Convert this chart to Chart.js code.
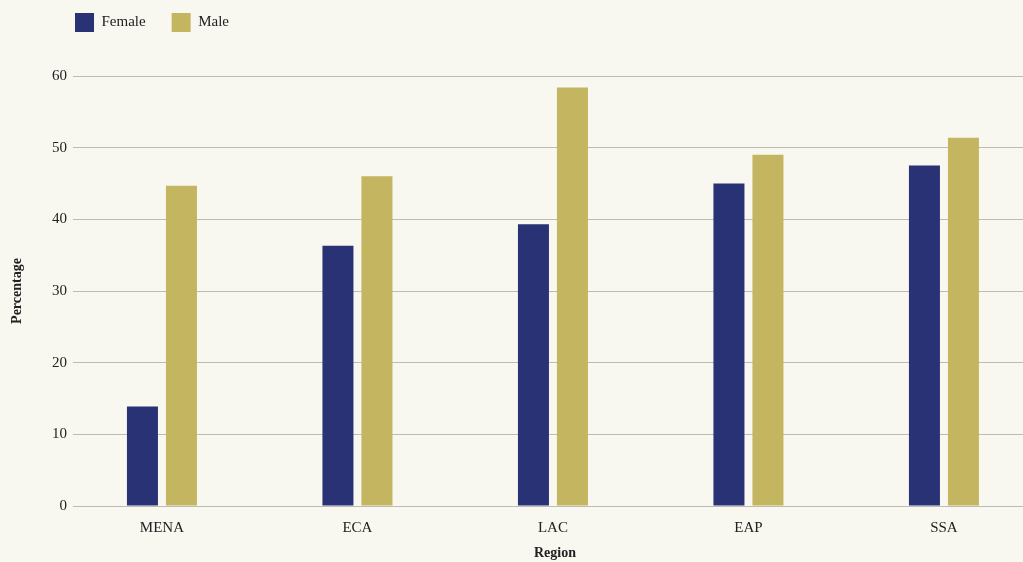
<!DOCTYPE html>
<html>
<head>
<meta charset="utf-8">
<script src="https://cdn.jsdelivr.net/npm/chart.js@4/dist/chart.umd.min.js"></script>
<style>
  html, body { margin: 0; padding: 0; background: #f8f7f0; overflow: hidden; }
  #wrap { width: 1037px; height: 562px; }
</style>
</head>
<body>
<div id="wrap"><canvas id="regionChart" width="1037" height="562"></canvas></div>
<script>
/* Setup data */
var regions = ['MENA', 'ECA', 'LAC', 'EAP', 'SSA'];
var female = [13.9, 36.3, 39.3, 45.0, 47.5];
var male = [44.7, 46.0, 58.4, 49.0, 51.4];
var yTicks = [0, 10, 20, 30, 40, 50, 60];

var serif = "'Liberation Serif', 'DejaVu Serif', serif";
var textColour = '#222222';

function toPoints(values) {
	return values.map(function(v, i) { return { x: i, y: v }; });
}

// shift the legend to sit above the plot like the original
var legendShift = {
	id: 'legendShift',
	afterLayout: function(chart) {
		var lg = chart.legend;
		if (!lg) return;
		lg.left += 49;
		lg.right += 49;
		lg.top -= 34;
		lg.bottom -= 34;
	}
};

var ctx = document.getElementById('regionChart');

var regionChart = new Chart(ctx, {
	type: 'bar',
	data: {
		datasets: [{
			label: 'Female',
			data: toPoints(female),
			backgroundColor: '#283275'
		}, {
			label: 'Male',
			data: toPoints(male),
			backgroundColor: '#c4b560'
		}]
	},
	options: {
		responsive: false,
		animation: false,
		categoryPercentage: 0.399,
		barPercentage: 0.795,
		layout: { padding: { top: 21, right: 0, bottom: 0, left: 0 } },
		plugins: {
			legend: {
				position: 'top',
				align: 'start',
				labels: {
					boxWidth: 19,
					boxHeight: 19,
					padding: 26,
					color: textColour,
					font: { family: serif, size: 15 }
				}
			},
			tooltip: { enabled: false }
		},
		scales: {
			x: {
				type: 'linear',
				offset: false,
				min: -0.455,
				max: 4.476,
				grid: { display: false, drawTicks: false, offset: false },
				border: { display: false },
				ticks: {
					stepSize: 1,
					includeBounds: false,
					autoSkip: false,
					maxRotation: 0,
					padding: 13,
					color: textColour,
					font: { family: serif, size: 15 },
					callback: function(value) {
						return Number.isInteger(value) ? regions[value] : '';
					}
				},
				title: {
					display: true,
					text: 'Region',
					color: textColour,
					padding: { top: 0, bottom: 0 },
					font: { family: serif, size: 14, weight: 'bold' }
				},
				afterFit: function(scale) { scale.height = 56; }
			},
			y: {
				min: 0,
				max: 60,
				afterBuildTicks: function(scale) {
					scale.ticks = yTicks.map(function(v) { return { value: v }; });
				},
				grid: { color: '#bdbcb4', lineWidth: 1, drawTicks: false },
				border: { display: false },
				ticks: {
					padding: 6,
					color: textColour,
					font: { family: serif, size: 15 }
				},
				title: {
					display: true,
					text: 'Percentage',
					color: textColour,
					padding: { top: 9, bottom: 0 },
					font: { family: serif, size: 14, weight: 'bold' }
				},
				afterFit: function(scale) { scale.width = 73; }
			}
		}
	},
	plugins: [legendShift]
});
</script>
</body>
</html>
